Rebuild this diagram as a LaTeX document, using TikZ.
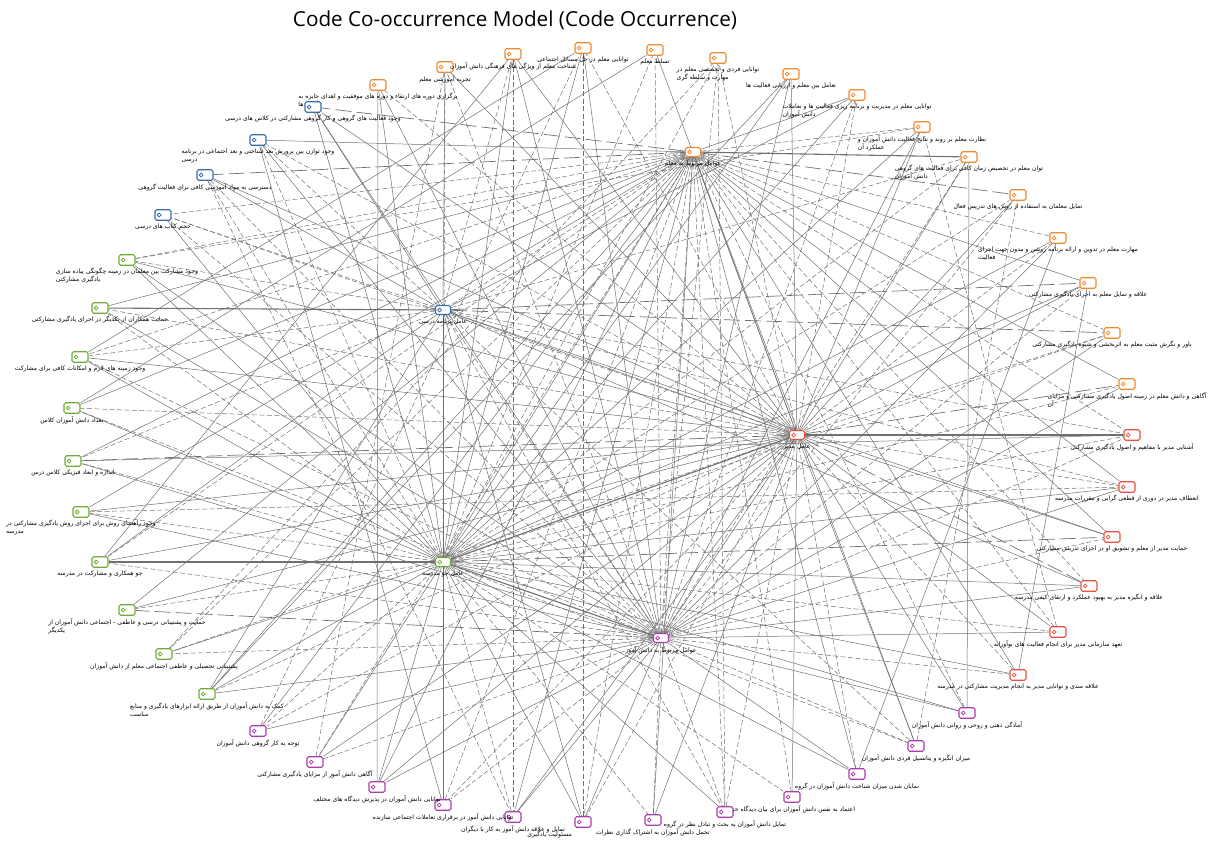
\documentclass[tikz,border=0pt]{standalone}
\usepackage{fontspec}
\usepackage{graphicx}
\setmainfont{DejaVu Sans}
\newfontfamily\titlefont{Open Sans}
\newfontfamily\fa[Script=Arabic]{DejaVu Sans}
\TeXXeTstate=1
\usetikzlibrary{backgrounds}
\definecolor{corange}{RGB}{240,138,48}
\definecolor{cblue}{RGB}{58,110,170}
\definecolor{cgreen}{RGB}{112,172,56}
\definecolor{cred}{RGB}{232,82,62}
\definecolor{cpurple}{RGB}{172,60,172}
\definecolor{edgegrey}{RGB}{112,112,112}
\tikzset{
  tagicon/.style={draw=#1, line width=1.1pt, fill=white, rounded corners=1.6pt,
    minimum width=16pt, minimum height=10.5pt, inner sep=0pt,
    path picture={\draw[#1, line width=0.8pt] ([xshift=4.2pt]path picture bounding box.west) circle (1.9pt);}},
  hubicon/.style={tagicon=#1, minimum width=15pt, minimum height=9pt},
  lab/.style={anchor=north, font=\fa\fontsize{6.1}{8}\selectfont, align=left, inner sep=0pt, text=black},
  s/.style={draw=edgegrey, line width=0.5pt},
  d/.style={draw=edgegrey, line width=0.5pt, dash pattern=on 5pt off 2.5pt},
  l/.style={draw=edgegrey, line width=0.7pt, dash pattern=on 16pt off 5pt},
  h/.style={draw=edgegrey, line width=1.1pt},
}
\newcommand\leaf[4]{\node[tagicon=#3] (#1) at (#2) {}; \node[lab] at ([yshift=-2.5pt]#1.south) {#4};}
\newcommand\hub[4]{\node[hubicon=#3] (#1) at (#2) {}; \node[lab] at ([yshift=-4pt]#1.south) {#4};}
\begin{document}
\begin{tikzpicture}[x=1pt,y=-1pt]
\useasboundingbox (0,0) rectangle (1215,847);
\node (title) at (515,20) {\resizebox{444pt}{!}{\titlefont Code Co-occurrence Model (Code Occurrence)}};

% hubs
\hub{o0}{693,152}{corange}{\beginR عوامل مربوط به معلم\endR}
\hub{b0}{443,310}{cblue}{\beginR عامل برنامه درسی\endR}
\hub{g0}{443,562}{cgreen}{\beginR عامل جو مدرسه\endR}
\hub{r0}{797,435}{cred}{\beginR عامل مدیر\endR}
\hub{p0}{661,638}{cpurple}{\beginR عوامل مربوط به دانش آموز\endR}

% orange leaves
\leaf{o1}{378,85}{corange}{\beginR برگزاری دوره های ارتقاء و دوره های موفقیت و اهدای جایزه به\endR\\\beginR گروه ها\endR}
\leaf{o2}{445,67}{corange}{\beginR تجربه آموزشی معلم\endR}
\leaf{o3}{513,54}{corange}{\beginR شناخت معلم از ویژگی های فرهنگی دانش آموزان\endR}
\leaf{o4}{583,48}{corange}{\beginR توانایی معلم در حل مسائل اجتماعی\endR}
\leaf{o5}{655,50}{corange}{\beginR تسلط معلم\endR}
\leaf{o6}{718,58}{corange}{\beginR توانایی فردی و تخصصی معلم در\endR\\\beginR مهارت و سلطه گری\endR}
\leaf{o7}{791,74}{corange}{\beginR تعامل بین معلم و ارزیابی فعالیت ها\endR}
\leaf{o8}{857,95}{corange}{\beginR توانایی معلم در مدیریت و برنامه ریزی فعالیت ها و تعاملات\endR\\\beginR دانش آموزان\endR}
\leaf{o9}{922,127}{corange}{\beginR نظارت معلم بر روند و نتایج فعالیت دانش آموزان و\endR\\\beginR عملکرد آن\endR}
\leaf{o10}{969,157}{corange}{\beginR توان معلم در تخصیص زمان کافی برای فعالیت های گروهی\endR\\\beginR دانش آموزان\endR}
\leaf{o11}{1018,195}{corange}{\beginR تمایل معلمان به استفاده از روش های تدریس فعال\endR}
\leaf{o12}{1058,238}{corange}{\beginR مهارت معلم در تدوین و ارائه برنامه روشن و مدون جهت اجرای\endR\\\beginR فعالیت\endR}
\leaf{o13}{1088,283}{corange}{\beginR علاقه و تمایل معلم به اجرای یادگیری مشارکتی\endR}
\leaf{o14}{1112,333}{corange}{\beginR باور و نگرش مثبت معلم به اثربخشی و شیوه یادگیری مشارکتی\endR}
\leaf{o15}{1127,384}{corange}{\beginR آگاهی و دانش معلم در زمینه اصول یادگیری مشارکتی و مزایای\endR\\\beginR آن\endR}

% blue leaves
\leaf{b1}{313,107}{cblue}{\beginR وجود فعالیت های گروهی و کار گروهی مشارکتی در کلاس های درسی\endR}
\leaf{b2}{258,140}{cblue}{\beginR وجود توازن بین پرورش بعد شناختی و بعد اجتماعی در برنامه\endR\\\beginR درسی\endR}
\leaf{b3}{205,175}{cblue}{\beginR دسترسی به مواد آموزشی کافی برای فعالیت گروهی\endR}
\leaf{b4}{163,215}{cblue}{\beginR حجم کتاب های درسی\endR}

% green leaves
\leaf{g1}{127,260}{cgreen}{\beginR وجود مشارکت بین معلمان در زمینه چگونگی پیاده سازی\endR\\\beginR یادگیری مشارکتی\endR}
\leaf{g2}{100,308}{cgreen}{\beginR حمایت همکاران از یکدیگر در اجرای یادگیری مشارکتی\endR}
\leaf{g3}{80,357}{cgreen}{\beginR وجود زمینه های لازم و امکانات کافی برای مشارکت\endR}
\leaf{g4}{72,408}{cgreen}{\beginR تعداد دانش آموزان کلاس\endR}
\leaf{g5}{73,461}{cgreen}{\beginR اندازه و ابعاد فیزیکی کلاس درس\endR}
\leaf{g6}{81,512}{cgreen}{\beginR وجود راهنمای روش برای اجرای روش یادگیری مشارکتی در\endR\\\beginR مدرسه\endR}
\leaf{g7}{100,562}{cgreen}{\beginR جو همکاری و مشارکت در مدرسه\endR}
\leaf{g8}{127,610}{cgreen}{\beginR حمایت و پشتیبانی درسی و عاطفی - اجتماعی دانش آموزان از\endR\\\beginR یکدیگر\endR}
\leaf{g9}{164,654}{cgreen}{\beginR پشتیبانی تحصیلی و عاطفی اجتماعی معلم از دانش آموزان\endR}
\leaf{g10}{207,694}{cgreen}{\beginR کمک به دانش آموزان از طریق ارائه ابزارهای یادگیری و منابع\endR\\\beginR مناسب\endR}

% red leaves
\leaf{r1}{1132,435}{cred}{\beginR آشنایی مدیر با مفاهیم و اصول یادگیری مشارکتی\endR}
\leaf{r2}{1127,487}{cred}{\beginR انعطاف مدیر در دوری از قطعی گرایی و مقررات مدرسه\endR}
\leaf{r3}{1112,537}{cred}{\beginR حمایت مدیر از معلم و تشویق او در اجرای تدریس مشارکتی\endR}
\leaf{r4}{1089,586}{cred}{\beginR علاقه و انگیزه مدیر به بهبود عملکرد و ارتقای کیفی مدرسه\endR}
\leaf{r5}{1058,632}{cred}{\beginR تعهد سازمانی مدیر برای انجام فعالیت های نوآورانه\endR}
\leaf{r6}{1018,675}{cred}{\beginR علاقه مندی و توانایی مدیر به انجام مدیریت مشارکتی در مدرسه\endR}

% purple leaves
\leaf{p1}{967,713}{cpurple}{\beginR آمادگی ذهنی و روحی و روانی دانش آموزان\endR}
\leaf{p2}{916,746}{cpurple}{\beginR میزان انگیزه و پتانسیل فردی دانش آموزان\endR}
\leaf{p3}{857,774}{cpurple}{\beginR نمایان شدن میزان شناخت دانش آموزان در گروه\endR}
\leaf{p4}{792,797}{cpurple}{\beginR اعتماد به نفس دانش آموزان برای بیان دیدگاه خود\endR}
\leaf{p5}{725,812}{cpurple}{\beginR تمایل دانش آموزان به بحث و تبادل نظر در گروه\endR}
\leaf{p6}{653,820}{cpurple}{\beginR تحمل دانش آموزان به اشتراک گذاری نظرات\endR}
\node[tagicon=cpurple] (p7) at (583,822) {};
\node[lab, anchor=north east] (p7lab) at (572,831) {\beginR مسئولیت یادگیری\endR};
\leaf{p8}{513,817}{cpurple}{\beginR تمایل و علاقه دانش آموز به کار با دیگران\endR}
\leaf{p9}{443,805}{cpurple}{\beginR توانایی دانش آموز در برقراری تعاملات اجتماعی سازنده\endR}
\leaf{p10}{377,787}{cpurple}{\beginR توانایی دانش آموزان در پذیرش دیدگاه های مختلف\endR}
\leaf{p11}{315,762}{cpurple}{\beginR آگاهی دانش آموز از مزایای یادگیری مشارکتی\endR}
\leaf{p12}{258,731}{cpurple}{\beginR توجه به کار گروهی دانش آموزان\endR}

\begin{scope}[on background layer]
\foreach \a/\b/\st in {
 o0/b0/d, o0/g0/s, o0/r0/s, o0/p0/d, b0/g0/s, b0/r0/s, b0/p0/d, g0/r0/h, g0/p0/h, r0/p0/s,
 o0/b1/l, o0/b2/s, o0/b3/l, o0/b4/d, o0/o8/s, o0/o9/d, o0/o10/h, o0/o11/l, o0/o12/d, o0/o13/s,
 o0/o14/d, o0/o15/s, o0/g1/d, o0/g2/s, o0/g3/d, o0/g5/s, o0/g6/s, o0/g7/d, o0/g8/s, o0/g9/d,
 o0/g10/s, o0/p12/s, o0/p11/d, o0/p10/s, o0/p9/d, o0/p8/s, o0/p7/d, o0/p6/s, o0/p5/d, o0/p3/s,
 o0/p1/d, o0/r3/s, o0/r5/d, o0/r6/s,
 o0/g4/s, o0/p2/s, o0/p4/d, o0/r1/d, o0/r2/s, o0/r4/d,
 r0/r1/h, r0/r2/d, r0/r3/s, r0/r4/l, r0/r5/s, r0/r6/d, r0/o7/s, r0/p4/s, r0/o11/s, r0/o12/d,
 r0/o13/s, r0/o14/d, r0/o15/l, r0/b1/s, r0/b2/d, r0/b3/s, r0/b4/d, r0/g1/s, r0/g2/d, r0/g3/s,
 r0/g5/l, r0/g8/s, r0/g9/d, r0/p2/s, r0/p3/d, r0/p8/s, r0/p10/s, r0/p12/d, r0/o3/s, r0/o4/d,
 r0/o2/s, r0/o1/d,
 r0/g4/d, r0/g6/s, r0/g7/s, r0/g10/d, r0/p1/s, r0/p5/d, r0/p6/s, r0/p7/d, r0/p9/d, r0/p11/s,
 r0/o5/s, r0/o6/d, r0/o8/d, r0/o9/s, r0/o10/s,
 g0/g1/s, g0/g2/d, g0/g3/s, g0/g4/s, g0/g6/d, g0/g7/h, g0/g8/d, g0/g9/s, g0/g10/s, g0/p9/s,
 g0/o1/s, g0/o2/d, g0/o4/s, g0/o6/d, g0/o8/s, g0/o9/s, g0/o10/d, g0/o13/s, g0/o15/d, g0/r1/d,
 g0/r2/s, g0/r3/l, g0/r4/s, g0/r5/d, g0/p1/s, g0/p2/d, g0/p3/s, g0/b2/d, g0/b4/s,
 g0/g5/d, g0/o3/s, g0/o5/d, g0/o7/s, g0/o11/d, g0/o12/s, g0/o14/d, g0/r6/s, g0/p4/d, g0/p5/s,
 g0/p6/d, g0/p7/s, g0/p8/d, g0/p10/s, g0/p11/s, g0/p12/d, g0/b1/s, g0/b3/d,
 p0/p1/s, p0/p2/d, p0/p3/s, p0/p5/d, p0/p6/d, p0/p7/s, p0/p8/s, p0/p9/d, p0/p10/s, p0/p11/d,
 p0/p12/s, p0/o5/d, p0/o1/s, p0/o2/d, p0/o3/s, p0/o4/s, p0/o6/d, p0/o7/s, p0/o8/d, p0/o9/s,
 p0/o11/d, p0/o12/s, p0/o13/d, p0/o14/s, p0/o15/s, p0/r1/d, p0/r2/s, p0/r3/d, p0/r4/s, p0/r6/d,
 p0/b1/s, p0/b3/d, p0/g2/s, p0/g3/d, p0/g6/s, p0/g7/d, p0/g8/l,
 p0/b2/s, p0/b4/d, p0/g1/s, p0/g4/d, p0/g5/s, p0/g9/d, p0/g10/s, p0/r5/s, p0/o10/d,
 b0/b1/s, b0/b2/d, b0/b3/s, b0/b4/d, b0/g2/h, b0/g3/d, b0/g1/d, b0/o14/l, b0/o13/l, b0/o2/s,
 b0/o10/d, b0/r2/d, b0/r4/s, b0/p2/d, b0/p9/s, b0/g10/s,
 b0/o3/d, b0/o8/s, b0/r1/d, b0/r3/s, b0/p5/d, b0/p7/s, b0/g5/d, b0/g7/s,
 o3/p8/d, o4/p7/d, o6/p5/d, g7/o3/s, g4/o5/s, g3/o4/s, g10/o7/s, g9/o6/d, p12/o4/d, p11/o2/d,
 p10/o1/s, b2/p9/s, b3/p8/d, g5/r1/s, g6/r2/d, p1/o10/s, p2/o11/d, p3/o12/s, r6/o13/s, r5/o9/d,
 g1/o9/d}
 {\draw[\st] (\a) -- (\b);}
\end{scope}
\end{tikzpicture}
\end{document}
